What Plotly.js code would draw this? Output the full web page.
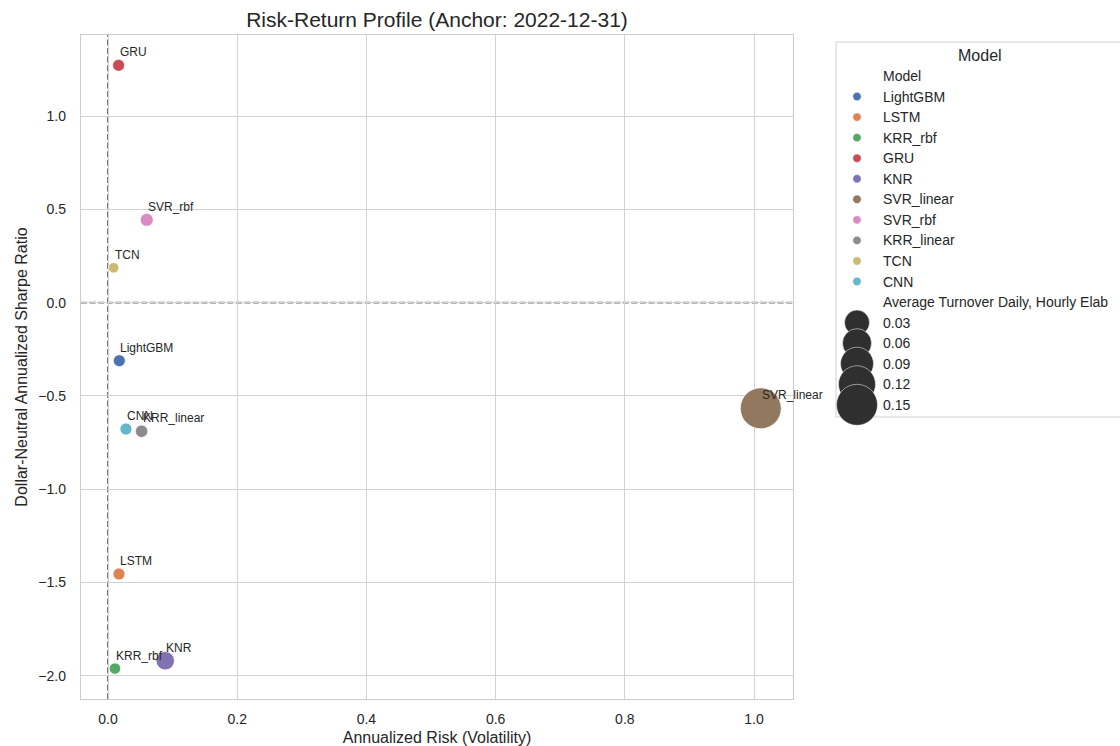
<!DOCTYPE html>
<html>
<head>
<meta charset="utf-8">
<script src="https://cdn.plot.ly/plotly-3.0.1.min.js"></script>
<style>html,body{margin:0;padding:0;background:#fff;}#chart{width:1120px;height:746px;}</style>
</head>
<body>
<div id="chart"></div>
<script>
// ---- data ----
const models = ["LightGBM","LSTM","KRR_rbf","GRU","KNR","SVR_linear","SVR_rbf","KRR_linear","TCN","CNN"];
const risk = [0.0175, 0.017, 0.0108, 0.0164, 0.0886, 1.0104, 0.060, 0.052, 0.0087, 0.0278];
const sharpe = [-0.311, -1.454, -1.961, 1.272, -1.919, -0.566, 0.444, -0.689, 0.187, -0.677];
const turnover = [0.0065, 0.0065, 0.005, 0.0065, 0.026, 0.16, 0.009, 0.0075, 0.003, 0.0065];
const colors = ["#4c72b0","#dd8452","#55a868","#c44e52","#8172b3","#937860","#da8bc3","#8c8c8c","#ccb974","#64b5cd"];
const sizeLegendVals = [0.03, 0.06, 0.09, 0.12, 0.15];
const sizeLegendTitle = "Average Turnover Daily, Hourly Elab";
const legendTitle = "Model";

// ---- style ----
const FONT = "Liberation Sans, Arial, sans-serif";
const TXT = "#262626";
const W = 1120, H = 746;
const M = {l: 81, r: 327, t: 35, b: 47};
const PW = W - M.l - M.r, PH = H - M.t - M.b;
const px2x = p => (p - M.l) / PW;
const py2y = p => (H - M.b - p) / PH;

// marker diameter: area linear in turnover
const diam = v => Math.sqrt(80 + 10000 * v);
// legend size glyphs
const legDiam = v => 25 + (v - 0.03) / 0.03 * 4;

const trace = {
  type: "scatter", mode: "markers",
  x: risk, y: sharpe, text: models,
  marker: {color: colors, size: turnover.map(diam), line: {color: "#ffffff", width: 0.75}, opacity: 1},
  showlegend: false, hoverinfo: "text"
};

const annotations = models.map((m, i) => ({
  x: risk[i], y: sharpe[i], xref: "x", yref: "y",
  text: m, showarrow: false, xanchor: "left", yanchor: "bottom",
  xshift: -1, yshift: 4,
  font: {family: FONT, size: 12, color: TXT}
}));

const shapes = [
  {type: "line", xref: "x", yref: "paper", x0: 0, x1: 0, y0: 0, y1: 1, layer: "between",
   line: {color: "#6a6a6a", width: 1.8, dash: "6px,2.6px"}},
  {type: "line", xref: "paper", yref: "y", x0: 0, x1: 1, y0: 0, y1: 0, layer: "between",
   line: {color: "#6a6a6a", width: 1.8, dash: "6px,2.6px"}},
  // legend frame
  {type: "rect", xref: "paper", yref: "paper", x0: px2x(836), x1: px2x(1130), y0: py2y(417), y1: py2y(42),
   line: {color: "#d0d0d0", width: 1}, fillcolor: "rgba(255,255,255,0.9)", layer: "above"}
];

// legend title
annotations.push({xref: "paper", yref: "paper", x: px2x(980), y: py2y(55), text: legendTitle,
  showarrow: false, xanchor: "center", yanchor: "middle", font: {family: FONT, size: 16, color: TXT}});

const rowY0 = 76, rowDY = 20.55, textX = 883, glyphX = 857;
const LF = 14;
let row = 0;
annotations.push({xref: "paper", yref: "paper", x: px2x(textX - 2), y: py2y(rowY0), text: legendTitle,
  showarrow: false, xanchor: "left", yanchor: "middle", font: {family: FONT, size: LF, color: TXT}});
row++;
models.forEach((m, i) => {
  const yy = rowY0 + row * rowDY;
  annotations.push({xref: "paper", yref: "paper", x: px2x(textX - 2), y: py2y(yy), text: m,
    showarrow: false, xanchor: "left", yanchor: "middle", font: {family: FONT, size: LF, color: TXT}});
  shapes.push({type: "circle", xref: "paper", yref: "paper", xsizemode: "pixel", ysizemode: "pixel",
    xanchor: px2x(glyphX), yanchor: py2y(yy), x0: -4.2, x1: 4.2, y0: -4.2, y1: 4.2,
    fillcolor: colors[i], line: {color: "#ffffff", width: 0.5}, layer: "above"});
  row++;
});
annotations.push({xref: "paper", yref: "paper", x: px2x(textX - 2), y: py2y(rowY0 + row * rowDY), text: sizeLegendTitle,
  showarrow: false, xanchor: "left", yanchor: "middle", font: {family: FONT, size: LF, color: TXT}});
row++;
sizeLegendVals.forEach(v => {
  const yy = rowY0 + row * rowDY;
  const r = legDiam(v) / 2;
  shapes.push({type: "circle", xref: "paper", yref: "paper", xsizemode: "pixel", ysizemode: "pixel",
    xanchor: px2x(glyphX), yanchor: py2y(yy), x0: -r, x1: r, y0: -r, y1: r,
    fillcolor: "#2f2f2f", line: {color: "#ffffff", width: 0.5}, layer: "above"});
  annotations.push({xref: "paper", yref: "paper", x: px2x(textX - 2), y: py2y(yy), text: v.toFixed(2),
    showarrow: false, xanchor: "left", yanchor: "middle", font: {family: FONT, size: LF, color: TXT}});
  row++;
});

const axisCommon = {
  showline: true, mirror: true, linecolor: "#cccccc", linewidth: 1.25,
  showgrid: true, gridcolor: "#d2d2d2", gridwidth: 1, zeroline: false,
  ticks: "", tickfont: {family: FONT, size: 14, color: TXT}, tickformat: ".1f",
  automargin: false
};

const layout = {
  width: W, height: H, margin: M,
  paper_bgcolor: "#ffffff", plot_bgcolor: "#ffffff",
  font: {family: FONT, color: TXT},
  title: {text: "Risk-Return Profile (Anchor: 2022-12-31)", x: 0.5, xref: "paper",
    y: 1 - 20 / H, yref: "container", yanchor: "middle", xanchor: "center",
    font: {family: FONT, size: 21, color: TXT}},
  xaxis: Object.assign({}, axisCommon, {range: [-0.0418, 1.0603], dtick: 0.2, tick0: 0, ticklabelstandoff: 7,
    title: {text: "Annualized Risk (Volatility)", standoff: 6, font: {family: FONT, size: 16, color: TXT}}}),
  yaxis: Object.assign({}, axisCommon, {range: [-2.124, 1.4346], dtick: 0.5, tick0: 0, ticklabelstandoff: 11,
    title: {text: "Dollar-Neutral Annualized Sharpe Ratio", standoff: 6, font: {family: FONT, size: 16, color: TXT}}}),
  shapes: shapes, annotations: annotations, showlegend: false
};

Plotly.newPlot("chart", [trace], layout, {displayModeBar: false, staticPlot: true});
</script>
</body>
</html>
